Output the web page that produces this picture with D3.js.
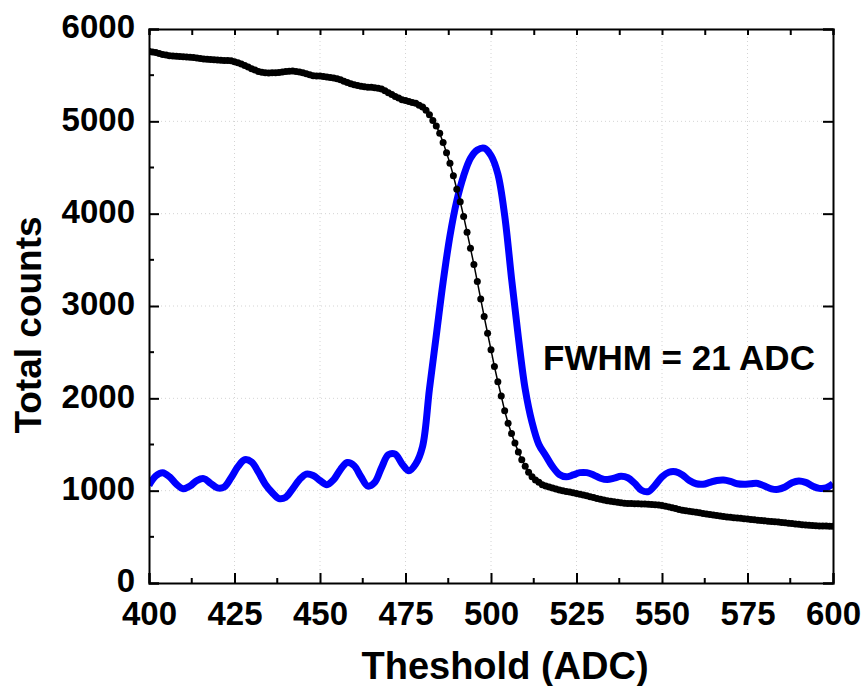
<!DOCTYPE html>
<html>
<head>
<meta charset="utf-8">
<script src="https://cdn.jsdelivr.net/npm/d3@7"></script>
<style>
  body { margin: 0; background: #fff; }
  text { font-family: "Liberation Sans", Arial, sans-serif; font-weight: bold; }
</style>
</head>
<body>
<div id="chart"></div>
<script>
// threshold scan, one point per ADC channel (400..600)
const thresholds = d3.range(400, 601, 1);
const totalCounts = [
  5760, 5752, 5745, 5735, 5725, 5718, 5710, 5707, 5705, 5702,
  5700, 5698, 5695, 5690, 5685, 5680, 5675, 5672, 5670, 5668,
  5665, 5662, 5660, 5658, 5655, 5645, 5635, 5620, 5605, 5588,
  5570, 5555, 5540, 5532, 5525, 5524, 5525, 5527, 5530, 5535,
  5540, 5543, 5545, 5540, 5535, 5525, 5515, 5505, 5495, 5492,
  5490, 5485, 5480, 5475, 5470, 5460, 5450, 5435, 5420, 5408,
  5395, 5388, 5380, 5375, 5370, 5368, 5365, 5358, 5350, 5330,
  5310, 5290, 5270, 5252, 5235, 5225, 5215, 5205, 5195, 5175,
  5155, 5120, 5070, 5010, 4950, 4870, 4770, 4660, 4545, 4410,
  4265, 4130, 3970, 3800, 3625, 3450, 3265, 3075, 2885, 2705,
  2525, 2345, 2180, 2025, 1865, 1730, 1620, 1515, 1420, 1335,
  1265, 1200, 1150, 1115, 1090, 1065, 1050, 1040, 1030, 1018,
  1008, 1000, 992, 985, 978, 970, 962, 953, 944, 934,
  925, 915, 906, 898, 892, 886, 880, 874, 869, 865,
  862, 860, 858, 857, 856, 855, 853, 851, 848, 845,
  840, 832, 824, 815, 806, 797, 789, 782, 776, 771,
  766, 760, 754, 748, 742, 736, 730, 725, 720, 716,
  712, 708, 704, 700, 696, 692, 688, 684, 680, 676,
  673, 670, 667, 664, 660, 656, 652, 648, 644, 640,
  636, 632, 628, 625, 622, 620, 618, 617, 616, 615,
  615
];

// differentiated spectrum, every 2 ADC
const specX = d3.range(400, 601, 2);
const specCounts = [
  1060, 1160, 1195, 1150, 1070, 1020, 1050, 1110, 1130, 1080,
  1030, 1040, 1140, 1260, 1335, 1310, 1200, 1070, 980, 915,
  930, 1020, 1120, 1180, 1165, 1110, 1065, 1120, 1230, 1305,
  1270, 1150, 1050, 1090, 1250, 1390, 1395, 1290, 1215, 1290,
  1480, 2100, 2680, 3260, 3760, 4140, 4410, 4600, 4690, 4710,
  4630, 4430, 3980, 3300, 2660, 2100, 1740, 1500, 1380, 1260,
  1175, 1150, 1170, 1195, 1195, 1170, 1135, 1120, 1135, 1155,
  1140, 1080, 1005, 990, 1060, 1150, 1200, 1205, 1170, 1110,
  1075, 1070, 1090, 1110, 1115, 1100, 1075, 1070, 1075, 1078,
  1050, 1020, 1015, 1040, 1085, 1105, 1090, 1050, 1025, 1030,
  1075
];

const xMajor = d3.range(400, 601, 25);
const xMinor = d3.range(412.5, 600, 25);
const yMajor = d3.range(0, 6001, 1000);
const yMinor = d3.range(500, 6000, 1000);

const W = 864, H = 686;
const margin = {top: 29, right: 31, bottom: 103, left: 149};
const width = W - margin.left - margin.right;
const height = H - margin.top - margin.bottom;

const svg = d3.select("#chart").append("svg")
    .attr("width", W)
    .attr("height", H);

const g = svg.append("g")
    .attr("transform", `translate(${margin.left},${margin.top})`);

const x = d3.scaleLinear().domain([400, 600]).range([0, width]);
const y = d3.scaleLinear().domain([0, 6000]).range([height, 0]);

// dotted grid
g.append("g").selectAll("line")
    .data(xMajor.slice(1, -1))
    .join("line")
    .attr("x1", d => x(d)).attr("x2", d => x(d))
    .attr("y1", 0).attr("y2", height)
    .attr("stroke", "#d4d4d4").attr("stroke-width", 1)
    .attr("stroke-dasharray", "1,3");
g.append("g").selectAll("line")
    .data(yMajor.slice(1, -1))
    .join("line")
    .attr("x1", 0).attr("x2", width)
    .attr("y1", d => y(d)).attr("y2", d => y(d))
    .attr("stroke", "#d4d4d4").attr("stroke-width", 1)
    .attr("stroke-dasharray", "1,3");

svg.append("clipPath").attr("id", "plotclip")
    .append("rect").attr("width", width).attr("height", height);

const plot = g.append("g").attr("clip-path", "url(#plotclip)");

// blue spectrum
plot.append("path")
    .datum(specX.map((v, i) => [v, specCounts[i]]))
    .attr("fill", "none")
    .attr("stroke", "#0000ff")
    .attr("stroke-width", 7)
    .attr("stroke-linejoin", "round")
    .attr("d", d3.line().x(d => x(d[0])).y(d => y(d[1])).curve(d3.curveCatmullRom));

// black integral counts
const pts = thresholds.map((v, i) => [v, totalCounts[i]]);
plot.append("path")
    .datum(pts)
    .attr("fill", "none")
    .attr("stroke", "#000")
    .attr("stroke-width", 1.5)
    .attr("d", d3.line().x(d => x(d[0])).y(d => y(d[1])));
plot.append("g").selectAll("circle")
    .data(pts)
    .join("circle")
    .attr("cx", d => x(d[0]))
    .attr("cy", d => y(d[1]))
    .attr("r", 3.5)
    .attr("fill", "#000");

// axes
const tickFont = "33px";
const axBottom = g.append("g")
    .attr("transform", `translate(0,${height})`)
    .call(d3.axisBottom(x).tickValues(xMajor).tickSize(-10).tickPadding(19).tickFormat(d3.format("d")));
axBottom.selectAll(".tick text").style("font-size", tickFont).attr("dy", "0.71em");
axBottom.append("g").selectAll("line").data(xMinor).join("line")
    .attr("x1", d => x(d)).attr("x2", d => x(d)).attr("y1", 0).attr("y2", -5)
    .attr("stroke", "#000").attr("stroke-width", 2);

const axLeft = g.append("g")
    .call(d3.axisLeft(y).tickValues(yMajor).tickSize(-10).tickPadding(14).tickFormat(d3.format("d")));
axLeft.selectAll(".tick text").style("font-size", tickFont).attr("dy", "0.27em");
axLeft.append("g").selectAll("line").data(yMinor).join("line")
    .attr("x1", 0).attr("x2", 5).attr("y1", d => y(d)).attr("y2", d => y(d))
    .attr("stroke", "#000").attr("stroke-width", 2);

const axTop = g.append("g")
    .call(d3.axisTop(x).tickValues(xMajor.concat(xMinor)).tickSize(-6).tickFormat(""));
const axRight = g.append("g")
    .attr("transform", `translate(${width},0)`)
    .call(d3.axisRight(y).tickValues(yMajor).tickSize(-10).tickFormat(""));

[axBottom, axLeft, axTop, axRight].forEach(a => {
  a.selectAll(".domain").attr("stroke", "#000").attr("stroke-width", 2);
  a.selectAll(".tick line").attr("stroke", "#000").attr("stroke-width", 2);
  a.selectAll(".tick text").attr("fill", "#000").style("font-family", "'Liberation Sans', Arial, sans-serif").style("font-weight", "bold");
});

// titles
svg.append("text")
    .attr("x", 505)
    .attr("y", 679)
    .attr("text-anchor", "middle")
    .style("font-size", "38px")
    .text("Theshold (ADC)");

svg.append("text")
    .attr("transform", "translate(41,325) rotate(-90)")
    .attr("text-anchor", "middle")
    .style("font-size", "37px")
    .text("Total counts");

svg.append("text")
    .attr("x", 543)
    .attr("y", 370)
    .style("font-size", "35px")
    .text("FWHM = 21 ADC");
</script>
</body>
</html>
